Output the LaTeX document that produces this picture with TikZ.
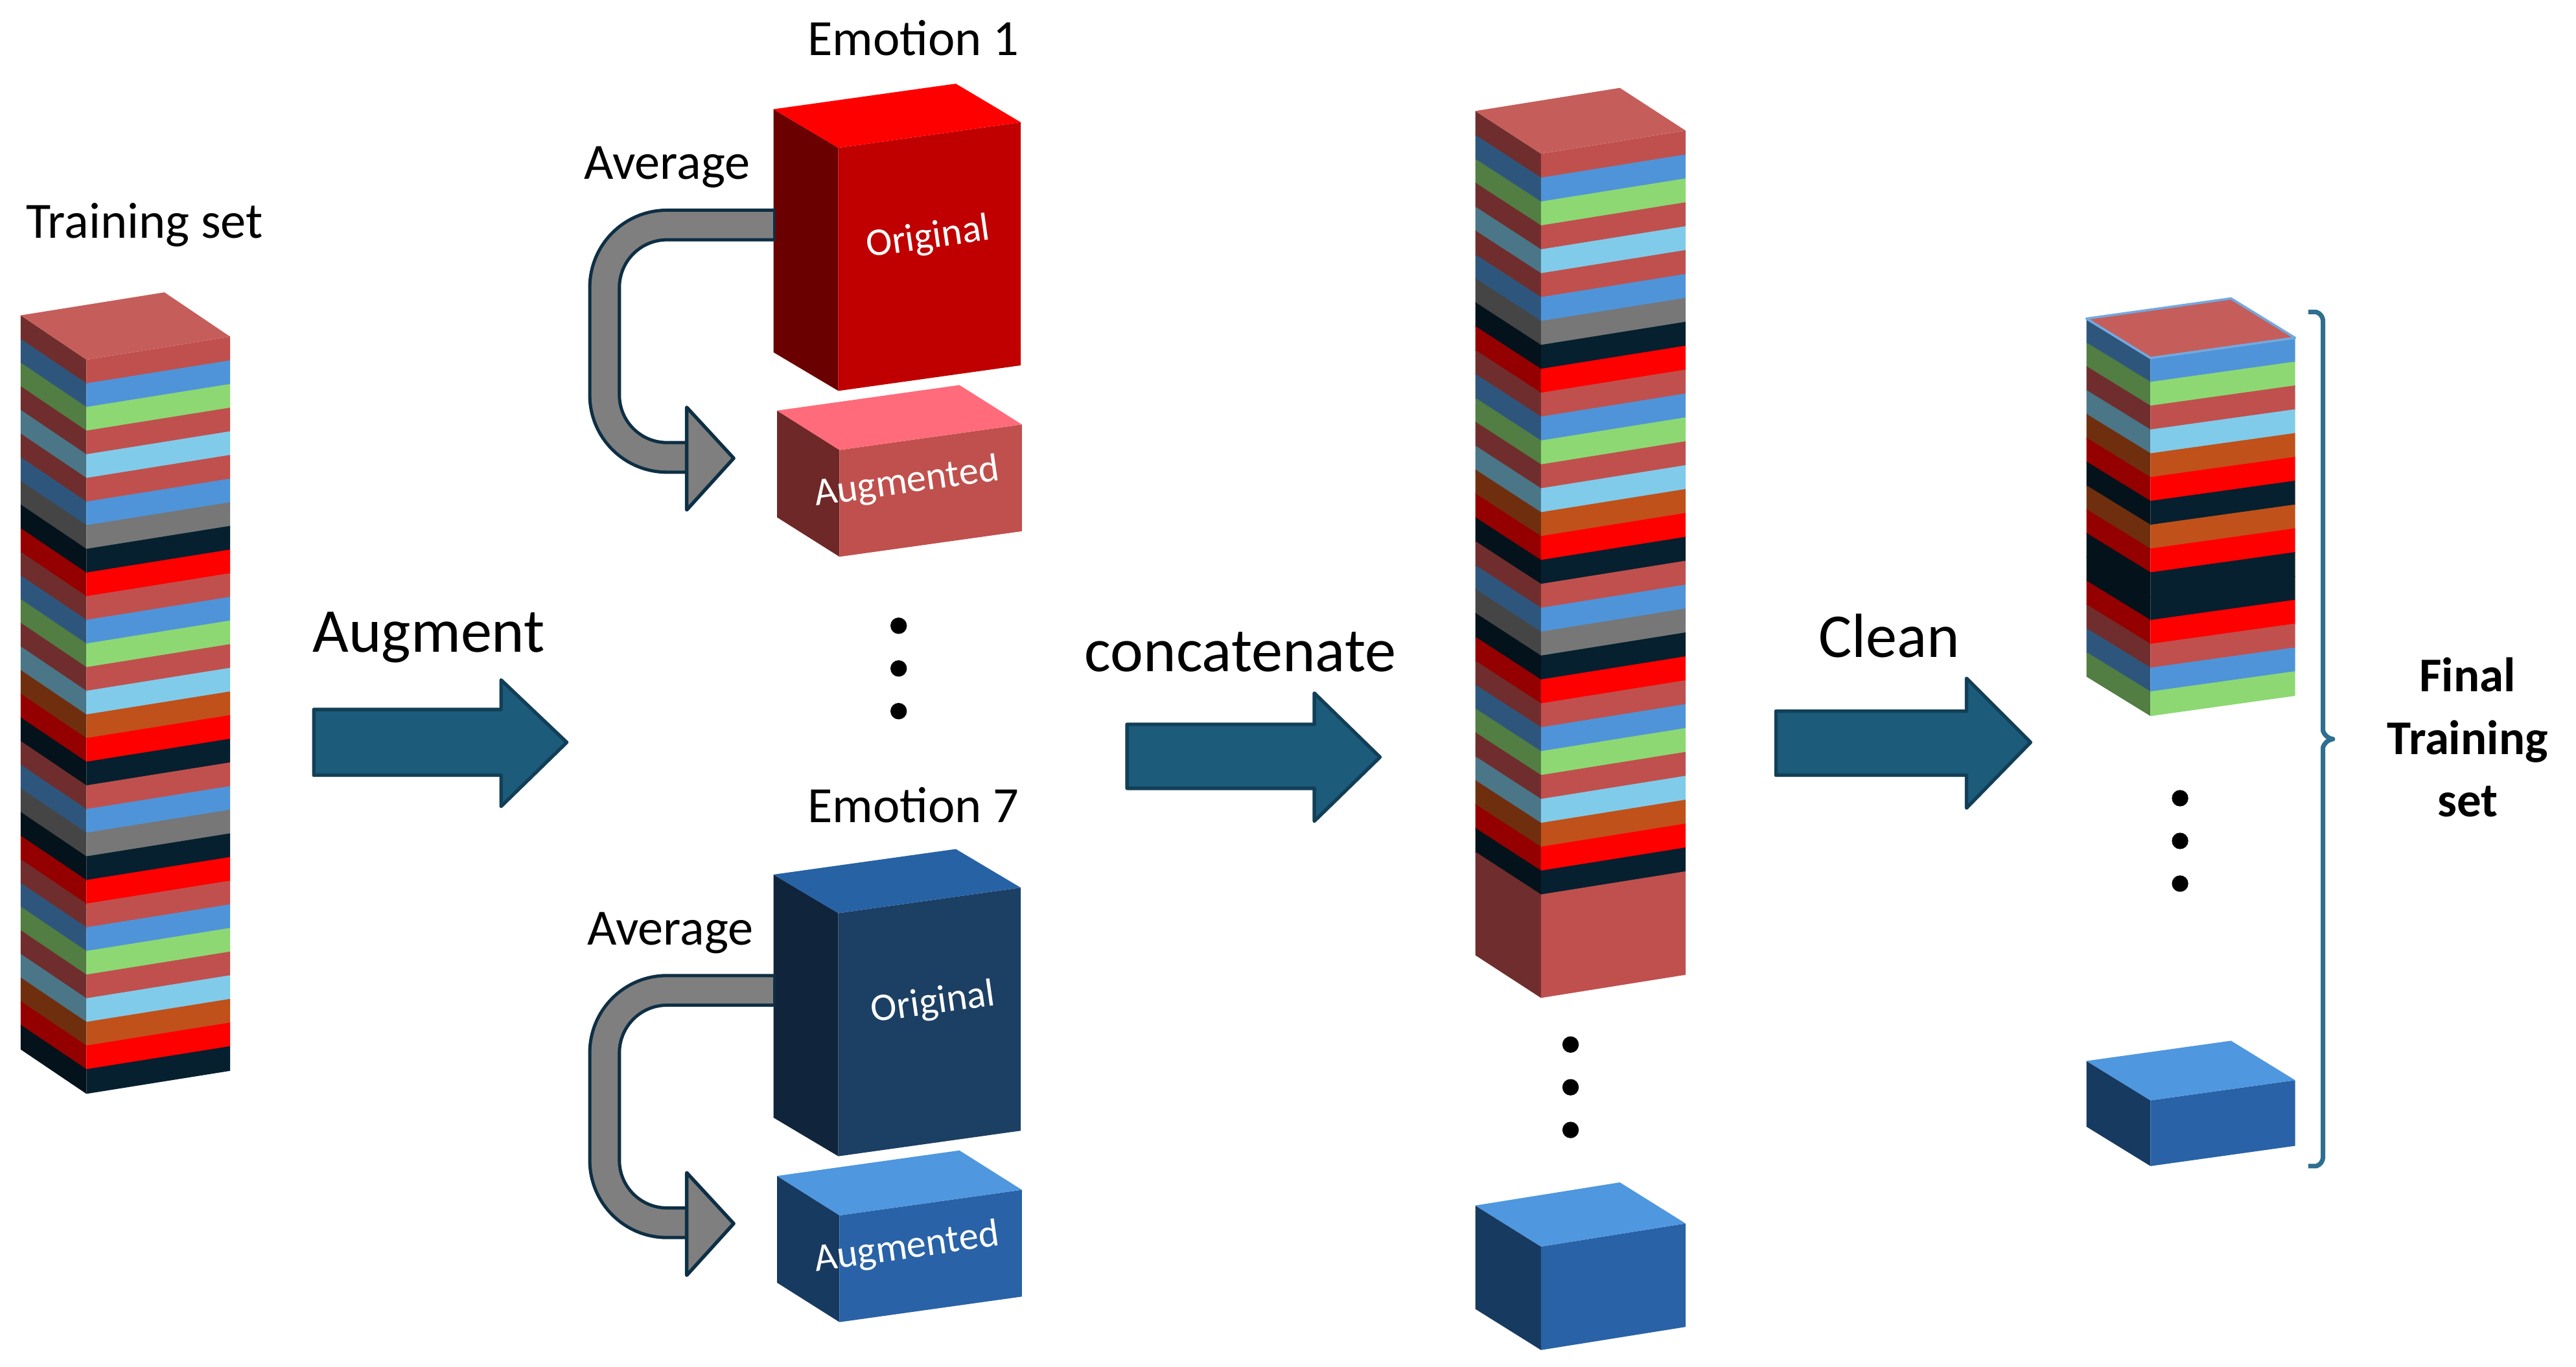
\documentclass[tikz,border=0pt]{standalone}
\usepackage{fontspec}
\setmainfont{Carlito}
\definecolor{RB}{HTML}{C0504D}
\definecolor{BL}{HTML}{4F94D8}
\definecolor{GR}{HTML}{8DD873}
\definecolor{LB}{HTML}{80CBEA}
\definecolor{GY}{HTML}{777777}
\definecolor{NV}{HTML}{06202F}
\definecolor{RD}{HTML}{FF0000}
\definecolor{OR}{HTML}{C0511A}
\definecolor{arrowfill}{HTML}{1D5B7B}
\definecolor{arrowline}{HTML}{123F57}
\definecolor{ugray}{HTML}{7F7F7F}
\definecolor{uline}{HTML}{0E2F44}
\definecolor{bracec}{HTML}{2E6E8E}
\definecolor{roF}{HTML}{C00000}\definecolor{roS}{HTML}{6B0000}\definecolor{roT}{HTML}{FF0000}
\definecolor{raF}{HTML}{C0504D}\definecolor{raS}{HTML}{6F2828}\definecolor{raT}{HTML}{FF6B7B}
\definecolor{boF}{HTML}{1C3F64}\definecolor{boS}{HTML}{10253C}\definecolor{boT}{HTML}{2762A5}
\definecolor{baF}{HTML}{2962A6}\definecolor{baS}{HTML}{173A60}\definecolor{baT}{HTML}{4F97DF}
\newcommand\slab[8]{%
 \fill[#8!58!black] (#1,#2) -- ++(-#6,-#7) -- ++(0,#4) -- ++(#6,#7) -- cycle;
 \fill[#8] (#1,#2) -- ++(#3,{-#5*#3}) -- ++(0,#4) -- ++({-#3},{#5*#3}) -- cycle;}
\newcommand\topface[7]{%
 \fill[#7] (#1,#2) -- ++(#3,{-#5*#3}) -- ++(-#6,-#4) -- ++({-#3},{#5*#3}) -- cycle;}
% cube: x0,Y,w,h,s,dx,dy, colour prefix
\newcommand\cube[8]{%
 \fill[#8S] (#1,#2) -- ++(-#6,-#7) -- ++(0,#4) -- ++(#6,#7) -- cycle;
 \fill[#8F] (#1,#2) -- ++(#3,{-#5*#3}) -- ++(0,#4) -- ++({-#3},{#5*#3}) -- cycle;
 \fill[#8T] (#1,#2) -- ++(#3,{-#5*#3}) -- ++(-#6,-#7) -- ++({-#3},{#5*#3}) -- cycle;}
\tikzset{
 lbl/.style={font=\fontsize{22}{26}\selectfont, inner sep=0pt},
 big/.style={font=\fontsize{27}{30}\selectfont, inner sep=0pt},
 inbox/.style={font=\fontsize{17}{20}\selectfont, text=white, inner sep=0pt, rotate=8},
 fin/.style={font=\bfseries\fontsize{21}{25}\selectfont, inner sep=0pt},
 bigarrow/.style={fill=arrowfill, draw=arrowline, line width=1.5},
 dot/.style={circle, fill=black, inner sep=0pt, minimum size=10*0.025cm},
}
\begin{document}
\begin{tikzpicture}[x=0.025cm,y=-0.025cm,line join=round]
\useasboundingbox (0,0) rectangle (1568,832);
\def\seq{RB,BL,GR,RB,LB,RB,BL,GY,NV,RD,RB,BL,GR,RB,LB,OR,RD,NV,RB,BL,GY,NV,RD,RB,BL,GR,RB,LB,OR,RD,NV}
% left stack
\foreach \c [count=\i from 0] in \seq {\slab{52.6}{219+\i*14.4}{87.5}{15}{0.16}{40}{27}{\c}}
\topface{52.6}{219}{87.5}{27}{0.16}{40}{RB!92!white}
% middle stack
\foreach \c [count=\i from 0] in \seq {\slab{938}{93.6+\i*14.55}{88}{15.1}{0.16}{40}{26}{\c}}
\slab{938}{544.6}{88}{63}{0.16}{40}{26}{RB}
\topface{938}{93.6}{88}{26}{0.16}{40}{RB!92!white}
% right stack
\foreach \c [count=\i from 0] in {BL,GR,RB,LB,OR,RD,NV,OR,RD,NV,NV,RD,RB,BL,GR} {\slab{1309}{218+\i*14.5}{88}{15}{0.14}{39}{24}{\c}}
\topface{1309}{218}{88}{24}{0.14}{39}{RB!92!white}
\draw[BL!80!white, line width=1] (1309,218) -- ++(88,-12.3) -- ++(-39,-24) -- ++(-88,12.3) -- cycle;
% emotion cubes
\cube{510.3}{90}{111}{148}{0.14}{39.5}{23.5}{ro}
\cube{511}{274}{111}{65}{0.14}{38}{24}{ra}
\cube{510.3}{556}{111}{148}{0.14}{39.5}{23.5}{bo}
\cube{511}{740}{111}{65}{0.14}{38}{24}{ba}
\cube{938}{759}{88}{63}{0.16}{40}{25}{ba}
\cube{1309}{670}{88}{40}{0.14}{39}{24}{ba}
% texts
\node[lbl] (ts) at (88,137) {Training set};
\node[lbl] (e1) at (556,23) {Emotion 1};
\node[lbl] (e7) at (556,490) {Emotion 7};
\node[lbl] (av1) at (406,102) {Average};
\node[lbl] (av7) at (408,568) {Average};
\node[inbox] (o1) at (565,145) {Original};
\node[inbox] (a1) at (552,294) {Augmented};
\node[inbox] (o7) at (568,611) {Original};
\node[inbox] (a7) at (552,760) {Augmented};
\node[big] (aug) at (261,388) {Augment};
\node[big] (con) at (755,397) {concatenate};
\node[big] (cln) at (1150,387) {Clean};
\node[fin,align=center] (fts) at (1502,449) {Final\\[2pt]Training\\[2pt]set};
% U arrows
\foreach \dy in {0,466} {
 \begin{scope}[yshift=-\dy*0.025cm]
 \draw[uline, line width=20*0.025cm, rounded corners=38*0.025cm] (472,137) -- (368,137) -- (368,278.5) -- (420,278.5);
 \draw[ugray, line width=16*0.025cm, rounded corners=38*0.025cm] (470.5,137) -- (368,137) -- (368,278.5) -- (421,278.5);
 \filldraw[fill=ugray, draw=uline, line width=1.5] (418,248) -- (446.6,279) -- (418,310.5) -- cycle;
 \end{scope}}
% big arrows
\filldraw[bigarrow] (191,432) -- (305,432) -- (305,414) -- (345,452) -- (305,491) -- (305,472) -- (191,472) -- cycle;
\filldraw[bigarrow] (686,441) -- (800,441) -- (800,422) -- (840,461) -- (800,500) -- (800,480) -- (686,480) -- cycle;
\filldraw[bigarrow] (1081,433) -- (1197,433) -- (1197,413) -- (1236,452) -- (1197,492) -- (1197,472) -- (1081,472) -- cycle;
% dots
\foreach \y [count=\k] in {381,407,433} {\node[dot] (d1\k) at (547,\y) {};}
\foreach \y [count=\k] in {636,662,688} {\node[dot] (d2\k) at (956,\y) {};}
\foreach \y [count=\k] in {486,512,538} {\node[dot] (d3\k) at (1327,\y) {};}
% brace
\draw[bracec, line width=2] (1405,190) -- (1410,190) to[bend left=30] (1414,195) -- (1414,445) to[bend right=30] (1420,450) to[bend right=30] (1414,455) -- (1414,705) to[bend left=30] (1410,710) -- (1405,710);
\end{tikzpicture}
\end{document}
